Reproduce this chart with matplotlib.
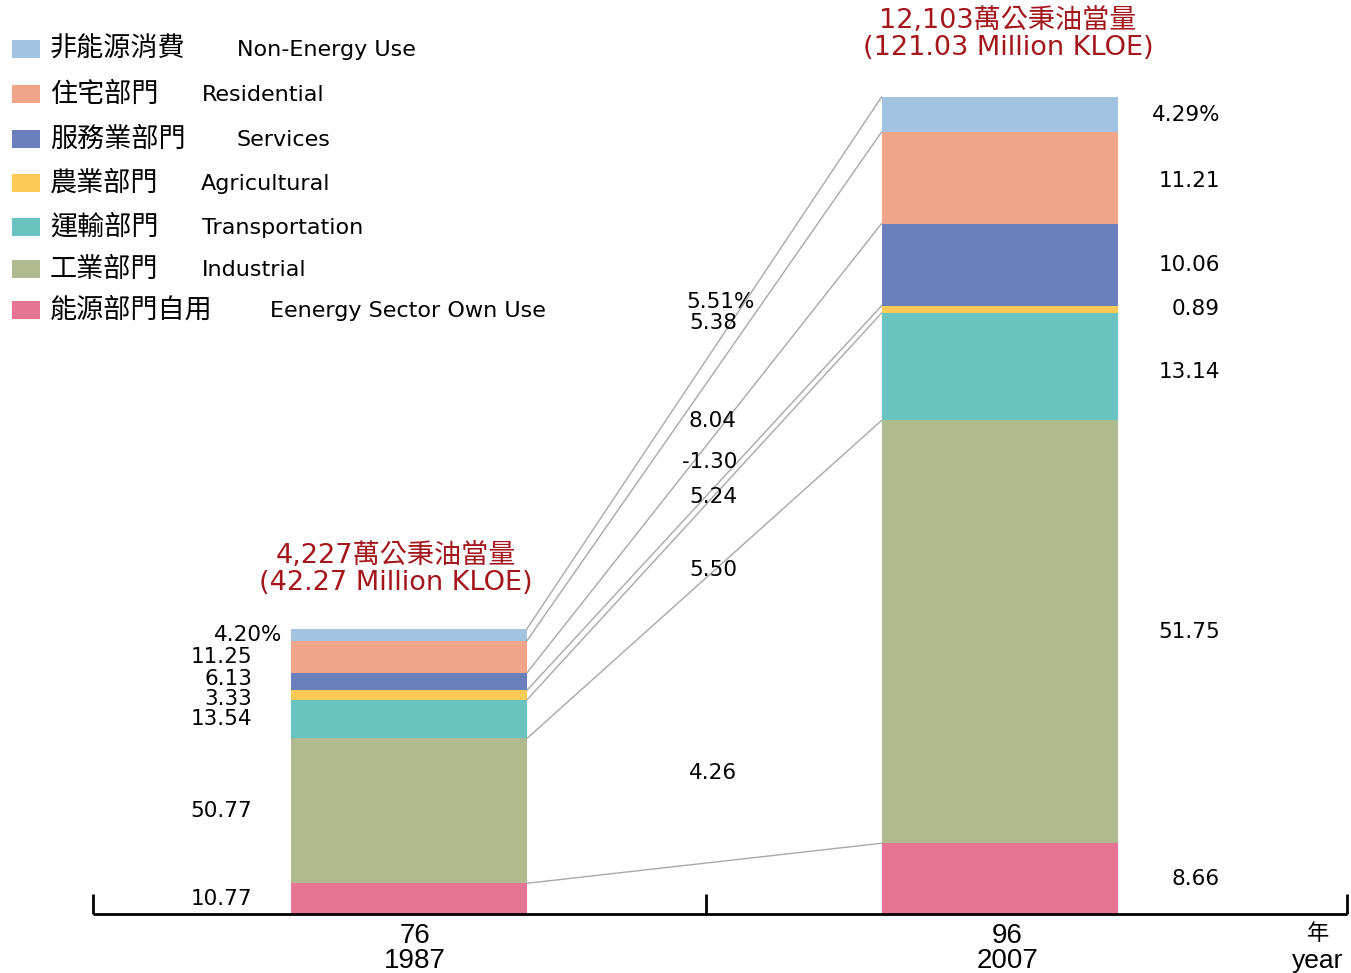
import matplotlib.pyplot as plt
from matplotlib.patches import Rectangle

# 部門別能源消費結構 (%), 由上而下
sectors_zh = ['非能源消費', '住宅部門', '服務業部門', '農業部門', '運輸部門', '工業部門', '能源部門自用']
sectors_en = ['Non-Energy Use', 'Residential', 'Services', 'Agricultural',
              'Transportation', 'Industrial', 'Eenergy Sector Own Use']
share_1987 = [4.20, 11.25, 6.13, 3.33, 13.54, 50.77, 10.77]
share_2007 = [4.29, 11.21, 10.06, 0.89, 13.14, 51.75, 8.66]
growth = [5.51, 5.38, 8.04, -1.30, 5.24, 5.50, 4.26]  # 年平均成長率
totals = [42.27, 121.03]  # 百萬公秉油當量
total_zh = ['4,227萬公秉油當量', '12,103萬公秉油當量']
years_roc = ['76', '96']
years = ['1987', '2007']

colors = ['#a3c4e0', '#f0a58a', '#6a80bc', '#fccb57', '#68c3c1', '#afbb8e', '#e57495']

W, H = 1351, 973
PX = 6.75          # 每單位 px
BASE = 914         # 基線位置 (px, 由上)

fig = plt.figure(figsize=(W / 100, H / 100), dpi=100)
ax = fig.add_axes([0, 0, 1, 1])
ax.set_xlim(0, W)
ax.set_ylim(-(H - BASE) / PX, BASE / PX)
ax.axis('off')

cjk = ['DejaVu Sans', 'Noto Sans CJK TC']
red = '#a3161c'
NUM = 15.5


def fy(y):
    # 由上量的 px 轉成 axes 資料座標
    return (BASE - y) / PX


bar_x = [409, 999.5]
bar_w = 236


def stack(share, total):
    vals = [total * s / 100 for s in share]
    tops, bottoms = [], []
    acc = 0
    for v in reversed(vals):
        bottoms.append(acc)
        acc += v
        tops.append(acc)
    return vals, list(reversed(bottoms)), list(reversed(tops))


v1, b1, t1 = stack(share_1987, totals[0])
v2, b2, t2 = stack(share_2007, totals[1])

for i in range(len(sectors_en)):
    ax.bar(bar_x[0], v1[i], bottom=b1[i], width=bar_w, color=colors[i], linewidth=0)
    ax.bar(bar_x[1], v2[i], bottom=b2[i], width=bar_w, color=colors[i], linewidth=0)

# 連接線
x_l = bar_x[0] + bar_w / 2
x_r = bar_x[1] - bar_w / 2
for i in range(len(sectors_en)):
    ax.plot([x_l, x_r], [t1[i], t2[i]], color='#a8a8a8', lw=1.0)

# 結構比標籤 (6.13 / 3.33 稍微錯開)
nudge_1987 = [0, 0, 0.4, -0.6, 0, 0, 0]
nudge_2007 = [0, -0.5, 0, 0, -0.8, 0, 0]
for i in range(len(sectors_en)):
    pct = '%' if i == 0 else ''
    ax.text(252 + (30 if pct else 0), (b1[i] + t1[i]) / 2 + nudge_1987[i],
            f'{share_1987[i]:.2f}' + pct, ha='right', va='center',
            fontsize=NUM, family='DejaVu Sans')
    ax.text(1220, (b2[i] + t2[i]) / 2 + nudge_2007[i],
            f'{share_2007[i]:.2f}' + pct, ha='right', va='center',
            fontsize=NUM, family='DejaVu Sans')

# 成長率標籤
growth_y = [302, 323, 421, 462, 497, 570, 773]
for i, g in enumerate(growth):
    pct = '%' if i == 0 else ''
    ax.text(737 + (18 if pct else 0), fy(growth_y[i]), f'{g:.2f}' + pct,
            ha='right', va='center', fontsize=NUM, family='DejaVu Sans')

# 總量
title_pos = [(396, 556, 583), (1008, 21, 48)]
for k in range(2):
    x, ya, yb = title_pos[k]
    ax.text(x, fy(ya), total_zh[k], ha='center', va='center', fontsize=19.5,
            family=cjk, color=red)
    ax.text(x, fy(yb), f'({totals[k]:.2f} Million KLOE)', ha='center', va='center',
            fontsize=19.5, family='DejaVu Sans', color=red)

# 橫軸
ax.plot([93, 1347], [0, 0], color='black', lw=2, solid_capstyle='butt')
for xt in [93, 706, 1347]:
    ax.plot([xt, xt], [0, fy(894)], color='black', lw=2, solid_capstyle='butt')

label_x = [415, 1007]
for k in range(2):
    ax.text(label_x[k], fy(936), years_roc[k], ha='center', va='center',
            fontsize=20, family='Liberation Sans')
    ax.text(label_x[k], fy(961), years[k], ha='center', va='center',
            fontsize=20, family='Liberation Sans')
ax.text(1318, fy(934), '年', ha='center', va='center', fontsize=16, family='Noto Sans CJK TC')
ax.text(1318, fy(961), 'year', ha='center', va='center', fontsize=19, family='Liberation Sans')

# 圖例
legend_y = [49, 94, 139, 183, 227, 269, 310]
en_x = [237, 202, 236, 201, 202, 202, 270]
for i in range(len(sectors_en)):
    y = legend_y[i]
    fig.patches.append(Rectangle((12 / W, 1 - (y + 9) / H), 28 / W, 18 / H,
                                 transform=fig.transFigure, color=colors[i], lw=0))
    fig.text(50 / W, 1 - y / H, sectors_zh[i], ha='left', va='center',
             fontsize=19.5, family='Noto Sans CJK TC')
    fig.text(en_x[i] / W, 1 - (y + 1) / H, sectors_en[i], ha='left', va='center',
             fontsize=16, family='DejaVu Sans')

fig.savefig('out.png', dpi=100, facecolor='white')
